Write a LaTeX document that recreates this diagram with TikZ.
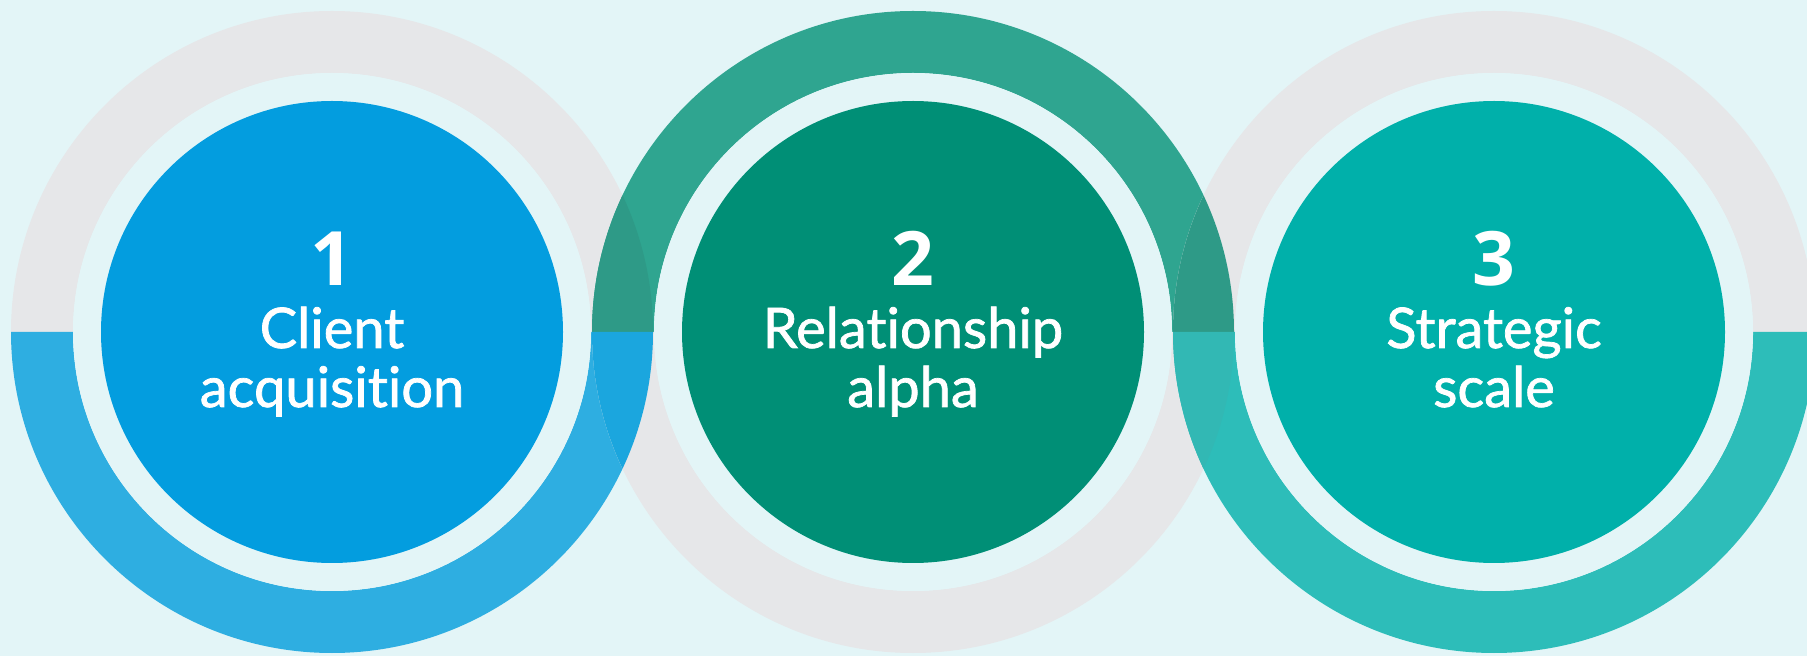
\documentclass[tikz,border=0pt]{standalone}
\usepackage{fontspec}
\setmainfont{Lato}[Ligatures=NoCommon]
\newfontfamily\labelfont{Lato}[FakeBold=1.3, Ligatures=NoCommon]
\newfontfamily\numfont{Open Sans}
\usepackage{tikz}
\usetikzlibrary{positioning}

\definecolor{pagebg}{HTML}{E3F5F7}
\definecolor{ringgrey}{HTML}{E6E7E9}
\definecolor{bluedisc}{HTML}{039DDF}
\definecolor{blueband}{HTML}{2EAEE1}
\definecolor{bluegrey}{HTML}{1BA6DE}
\definecolor{greendisc}{HTML}{008F76}
\definecolor{greenband}{HTML}{2FA590}
\definecolor{greengrey}{HTML}{2E9A87}
\definecolor{tealdisc}{HTML}{00B0AA}
\definecolor{tealband}{HTML}{2DBDB9}
\definecolor{tealgrey}{HTML}{32B8B4}

% half rings round a centre at (#1,324)
\newcommand{\upperband}[1]{(#1-321,324) arc[start angle=180,end angle=0,radius=321] -- (#1+259,324) arc[start angle=0,end angle=180,radius=259] -- cycle}
\newcommand{\lowerband}[1]{(#1-321,324) arc[start angle=180,end angle=360,radius=321] -- (#1+259,324) arc[start angle=360,end angle=180,radius=259] -- cycle}

\tikzset{
  disc/.style={circle, minimum size=462pt, inner sep=0pt, outer sep=0pt},
  stepnum/.style={text=white, font=\numfont\fontsize{75}{75}\selectfont\bfseries, anchor=base, inner sep=0pt},
  steplabel/.style={text=white, align=center, font=\labelfont\fontsize{56}{59}\selectfont, anchor=base, inner sep=0pt}
}

\begin{document}
\begin{tikzpicture}[x=1pt,y=1pt]
\useasboundingbox (0,0) rectangle (1807,656);
\clip (0,0) rectangle (1807,656);
\fill[pagebg] (0,0) rectangle (1807,656);

\fill[ringgrey] \upperband{332};
\fill[blueband] \lowerband{332};
\fill[greenband] \upperband{913};
\fill[ringgrey] \lowerband{913};
\fill[ringgrey] \upperband{1494};
\fill[tealband] \lowerband{1494};

% where the rings cross
\begin{scope}
\clip \upperband{332};
\fill[greengrey] \upperband{913};
\end{scope}
\begin{scope}
\clip \lowerband{332};
\fill[bluegrey] \lowerband{913};
\end{scope}
\begin{scope}
\clip \upperband{1494};
\fill[greengrey] \upperband{913};
\end{scope}
\begin{scope}
\clip \lowerband{1494};
\fill[tealgrey] \lowerband{913};
\end{scope}

\fill[pagebg] (332,324) circle[radius=259];
\fill[pagebg] (913,324) circle[radius=259];
\fill[pagebg] (1494,324) circle[radius=259];

\node[disc, fill=bluedisc] (acq) at (332,324) {};
\node[disc, fill=greendisc] (rel) at (913,324) {};
\node[disc, fill=tealdisc] (scl) at (1494,324) {};

\node[stepnum] (acqnum) at (332,370) {1};
\node[steplabel] (acqtext) at (332,249) {Client\\acquisition};
\node[stepnum] (relnum) at (913,370) {2};
\node[steplabel] (reltext) at (913,249) {Relationship\\alpha};
\node[stepnum] (sclnum) at (1494,370) {3};
\node[steplabel] (scltext) at (1494,249) {Strategic\\scale};
\end{tikzpicture}
\end{document}
